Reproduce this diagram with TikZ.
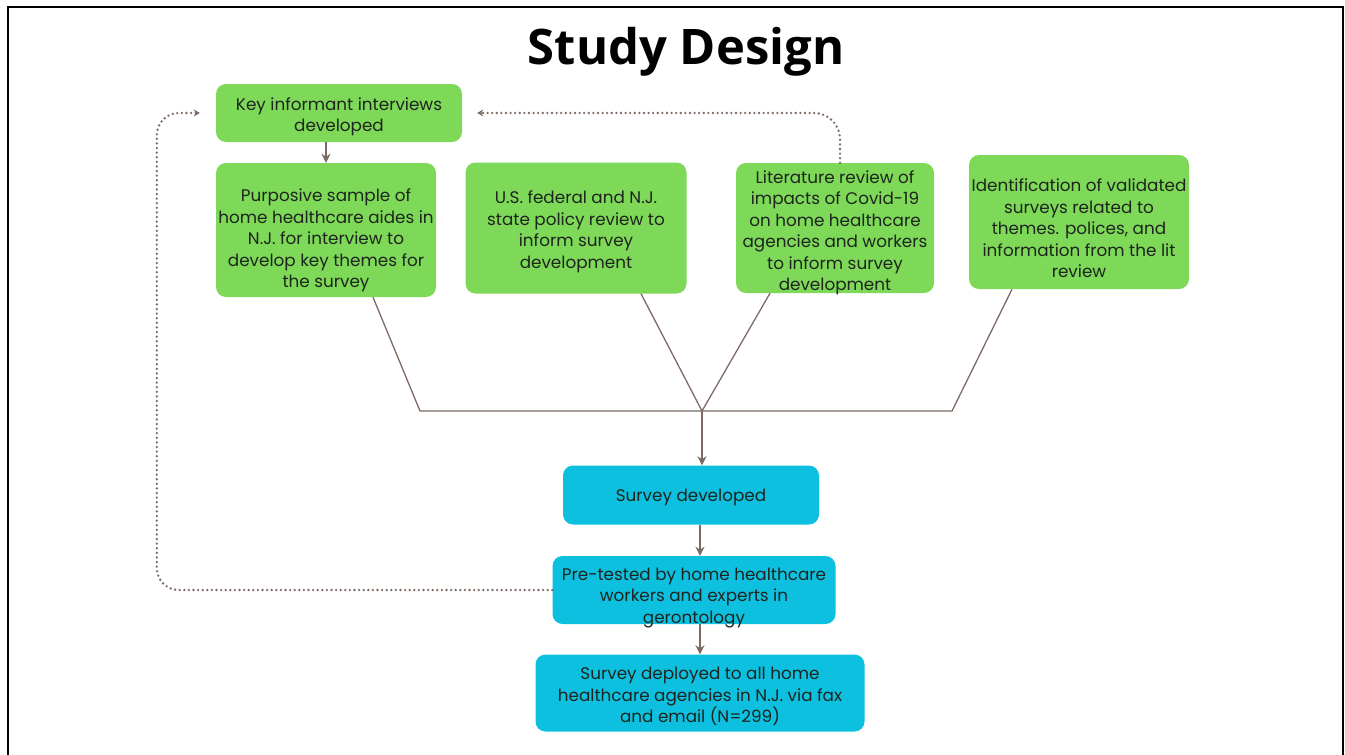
\documentclass[tikz,border=0pt]{standalone}
\usepackage{fontspec}
\setmainfont{Poppins}
\newfontfamily\titlefont{Open Sans}
\usepackage{xcolor}
\usetikzlibrary{shapes,arrows.meta,positioning,calc}

\definecolor{boxgreen}{HTML}{7DD957}
\definecolor{boxblue}{HTML}{0DC0DF}
\definecolor{linebrown}{HTML}{7D6A62}
\definecolor{textdark}{HTML}{1E241E}

\begin{document}
\begin{tikzpicture}[
  x=1pt, y=-1pt,
  block/.style={rectangle, inner sep=0pt, align=center, rounded corners=10pt, text=textdark, font=\fontsize{16.8}{21.5}\selectfont},
  greenbox/.style={block, fill=boxgreen},
  bluebox/.style={block, fill=boxblue},
  arrow/.style={-{Stealth[length=9pt,width=9pt]}, line width=1.8pt, draw=linebrown},
  joint/.style={line width=1.3pt, draw=linebrown},
  feedback/.style={-{Stealth[length=6pt,width=7pt]}, line width=2.6pt, draw=linebrown, line cap=round, dash pattern=on 0pt off 4.6pt}
]
  \useasboundingbox (0,0) rectangle (1345,755);
  \draw[line width=2pt] (8,755) -- (8,7) -- (1343,7) -- (1343,755);

  \node[font=\titlefont\bfseries\fontsize{49}{56}\selectfont] (title) at (686,52) {Study Design};

  \node[greenbox, minimum width=246pt, minimum height=58pt, text height=42pt] (inform) at (339,113) {Key informant interviews\\developed};
  \node[greenbox, minimum width=220pt, minimum height=134pt, text height=120pt] (sample) at (326,230) {Purposive sample of\\home healthcare aides in\\N.J. for interview to\\develop key themes for\\the survey};
  \node[greenbox, minimum width=221pt, minimum height=131pt, text height=85pt] (policy) at (576,228) {U.S. federal and N.J.\\state policy review to\\inform survey\\development};
  \node[greenbox, minimum width=198pt, minimum height=130pt, text height=125pt, text depth=0pt] (litreview) at (835,228) {Literature review of\\impacts of Covid-19\\on home healthcare\\agencies and workers\\to inform survey\\development};
  \node[greenbox, minimum width=220pt, minimum height=134pt, text height=112pt] (validated) at (1079,222) {Identification of validated\\surveys related to\\themes. polices, and\\information from the lit\\review};

  \node[bluebox, minimum width=256pt, minimum height=59pt, text height=18pt] (surveydev) at (691,495) {Survey developed};
  \node[bluebox, minimum width=283pt, minimum height=68pt, text height=66pt, text depth=0pt] (pretest) at (694,590) {Pre-tested by home healthcare\\workers and experts in\\gerontology};
  \node[bluebox, minimum width=329pt, minimum height=77pt, text height=63pt] (deploy) at (700,693) {Survey deployed to all home\\healthcare agencies in N.J. via fax\\and email (N=299)};

  \coordinate (leftend) at (420,411);
  \coordinate (merge) at (702,411);
  \coordinate (rightend) at (952,411);

  \draw[arrow] (inform.south -| sample.north) -- (sample.north);
  \draw[joint] ([xshift=47pt]sample.south) -- (leftend) -- (rightend) -- ([xshift=-67pt]validated.south);
  \draw[joint] ([xshift=65pt]policy.south) -- (merge) -- ([xshift=-65pt]litreview.south);
  \draw[arrow] (merge) -- (merge |- surveydev.north);
  \draw[arrow] (surveydev.south -| deploy.north) -- (pretest.north -| deploy.north);
  \draw[arrow] (pretest.south -| deploy.north) -- (deploy.north);

  % feedback loops
  \draw[feedback, shorten >=16pt] (pretest.west) [rounded corners=22pt] -| ([xshift=-59pt]inform.west) [sharp corners] -- (inform.west);
  \draw[feedback, rounded corners=26pt, shorten >=15pt] ([xshift=5pt]litreview.north) |- (inform.east);
\end{tikzpicture}
\end{document}
